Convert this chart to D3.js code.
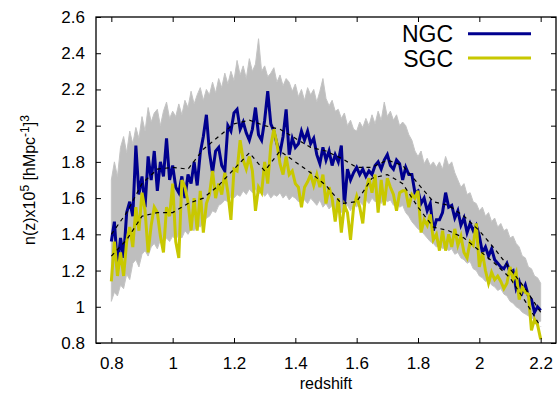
<!DOCTYPE html>
<html>
<head>
<meta charset="utf-8">
<script src="https://cdn.jsdelivr.net/npm/d3@7"></script>
<style>
  body { margin: 0; background: #fff; }
  text { font-family: "Liberation Sans", Arial, sans-serif; fill: #000; }
</style>
</head>
<body>
<div id="chart"></div>
<script>
// redshift bins (step 0.01) and smooth-curve bins (step 0.05)
var zStart = 0.80, zStep = 0.01;
var zSmoothStart = 0.80, zSmoothStep = 0.05;

var ngc = [1.36,1.47,1.22,1.38,1.27,1.52,1.58,1.50,1.89,1.62,
  1.72,1.55,1.83,1.70,1.86,1.64,1.80,1.72,1.93,1.70,
  1.78,1.66,1.63,1.72,1.60,1.73,1.68,1.80,1.67,1.85,
  1.94,2.06,1.85,1.74,1.86,1.88,1.78,1.75,2.00,1.97,
  2.07,2.09,1.98,2.02,1.96,1.92,1.98,2.10,1.95,1.92,
  2.03,2.19,2.01,1.97,1.90,1.85,1.94,2.09,1.84,1.93,
  1.88,1.90,1.97,1.92,1.97,1.90,1.93,1.84,1.79,1.88,
  1.81,1.86,1.78,1.84,1.80,1.89,1.56,1.76,1.70,1.74,
  1.77,1.73,1.76,1.72,1.75,1.73,1.78,1.80,1.76,1.81,
  1.84,1.78,1.76,1.81,1.79,1.70,1.77,1.73,1.73,1.63,
  1.64,1.57,1.60,1.53,1.57,1.42,1.48,1.48,1.52,1.63,
  1.55,1.56,1.49,1.53,1.45,1.49,1.41,1.46,1.42,1.45,
  1.39,1.30,1.33,1.28,1.32,1.26,1.24,1.22,1.21,1.24,
  1.19,1.20,1.10,1.14,1.08,1.12,1.06,1.04,0.97,1.00,
  0.98];

var sgc = [1.14,1.36,1.17,1.30,1.17,1.36,1.44,1.33,1.55,1.42,
  1.63,1.53,1.30,1.45,1.55,1.52,1.39,1.30,1.55,1.50,
  1.68,1.36,1.27,1.70,1.66,1.58,1.42,1.60,1.42,1.64,
  1.41,1.57,1.62,1.75,1.60,1.68,1.62,1.74,1.63,1.48,
  1.76,1.75,1.92,1.81,1.76,1.83,1.75,1.53,1.66,1.63,
  1.80,1.68,1.89,1.98,1.90,1.79,1.73,1.83,1.73,1.75,
  1.68,1.66,1.55,1.66,1.69,1.73,1.67,1.73,1.66,1.73,
  1.57,1.66,1.60,1.47,1.60,1.41,1.56,1.52,1.37,1.55,
  1.61,1.55,1.46,1.64,1.71,1.63,1.73,1.52,1.70,1.56,
  1.71,1.66,1.62,1.53,1.63,1.64,1.64,1.55,1.62,1.60,
  1.64,1.41,1.48,1.45,1.51,1.37,1.40,1.31,1.42,1.31,
  1.40,1.33,1.43,1.34,1.39,1.30,1.27,1.36,1.34,1.46,
  1.22,1.30,1.20,1.13,1.19,1.15,1.17,1.14,1.10,1.13,
  1.22,1.15,1.19,1.04,1.11,1.08,1.07,0.87,0.93,0.90,
  0.82];

// envelope of the mock catalogues
var mockHigh = [1.70,1.80,1.72,1.88,1.94,1.85,1.97,1.90,1.99,1.93,
  2.05,1.97,2.10,2.02,2.07,2.09,2.00,2.08,2.13,2.04,
  2.08,2.05,2.12,2.06,2.14,2.10,2.19,2.12,2.17,2.21,
  2.14,2.20,2.17,2.24,2.18,2.26,2.21,2.29,2.23,2.30,
  2.25,2.36,2.28,2.33,2.26,2.37,2.30,2.34,2.48,2.30,
  2.33,2.27,2.29,2.32,2.24,2.28,2.22,2.26,2.24,2.19,
  2.23,2.16,2.20,2.14,2.21,2.17,2.20,2.13,2.19,2.26,
  2.15,2.11,2.14,2.08,2.09,2.04,2.07,2.00,2.03,1.98,
  1.97,2.02,1.99,2.04,2.00,2.06,2.01,2.08,2.03,2.13,
  2.05,2.08,2.03,2.06,2.00,2.02,2.00,1.95,1.92,1.86,
  1.83,1.86,1.79,1.82,1.78,1.80,1.77,1.80,1.76,1.83,
  1.78,1.80,1.74,1.70,1.66,1.68,1.62,1.63,1.58,1.57,
  1.53,1.55,1.50,1.52,1.47,1.49,1.44,1.46,1.42,1.43,
  1.38,1.39,1.35,1.33,1.28,1.27,1.22,1.21,1.17,1.16,
  1.13];

var mockLow = [1.03,1.08,1.06,1.12,1.10,1.18,1.15,1.24,1.26,1.22,
  1.29,1.31,1.28,1.33,1.35,1.32,1.37,1.35,1.38,1.36,
  1.39,1.37,1.40,1.38,1.42,1.40,1.43,1.42,1.45,1.44,
  1.47,1.49,1.50,1.53,1.52,1.56,1.57,1.59,1.58,1.61,
  1.60,1.62,1.61,1.64,1.62,1.65,1.63,1.65,1.62,1.64,
  1.61,1.63,1.60,1.62,1.61,1.63,1.60,1.62,1.59,1.61,
  1.60,1.58,1.61,1.59,1.57,1.60,1.58,1.56,1.59,1.55,
  1.57,1.54,1.56,1.53,1.55,1.52,1.54,1.56,1.53,1.57,
  1.55,1.58,1.56,1.59,1.57,1.60,1.58,1.59,1.57,1.60,
  1.58,1.59,1.56,1.58,1.55,1.56,1.52,1.50,1.47,1.45,
  1.43,1.42,1.40,1.38,1.36,1.35,1.33,1.34,1.32,1.33,
  1.31,1.32,1.29,1.30,1.27,1.26,1.24,1.25,1.21,1.20,
  1.17,1.16,1.14,1.15,1.12,1.11,1.09,1.10,1.07,1.06,
  1.03,1.02,1.00,0.99,0.97,0.96,0.95,0.94,0.93,0.92,
  0.92];

// smoothed n(z) fits (dashed)
var ngcSmooth = [1.40,1.52,1.68,1.76,1.77,1.76,1.87,1.94,2.01,2.03,
  2.00,1.98,1.93,1.88,1.86,1.82,1.77,1.77,1.81,1.78,
  1.68,1.58,1.56,1.50,1.42,1.32,1.21,1.10,0.97];
var sgcSmooth = [1.28,1.37,1.50,1.52,1.52,1.57,1.60,1.67,1.76,1.85,
  1.75,1.86,1.80,1.74,1.67,1.57,1.58,1.71,1.73,1.68,
  1.55,1.44,1.42,1.38,1.31,1.24,1.16,1.03,0.89];

var xTicks = [0.8, 1.0, 1.2, 1.4, 1.6, 1.8, 2.0, 2.2];
var yTicks = [0.8, 1.0, 1.2, 1.4, 1.6, 1.8, 2.0, 2.2, 2.4, 2.6];
var legendNames = ["NGC", "SGC"];
var legendColors = ["#00008f", "#c8c800"];

var margin = {top: 17, right: 3, bottom: 52, left: 96},
    width = 559 - margin.left - margin.right,
    height = 395 - margin.top - margin.bottom;

var x = d3.scaleLinear().domain([0.75, 2.25]).range([0, width]);
var y = d3.scaleLinear().domain([0.8, 2.6]).range([height, 0]);

var svg = d3.select("#chart").append("svg")
    .attr("width", width + margin.left + margin.right)
    .attr("height", height + margin.top + margin.bottom)
  .append("g")
    .attr("transform", "translate(" + margin.left + "," + margin.top + ")");

function zAt(i) { return zStart + i * zStep; }
function zSmoothAt(i) { return zSmoothStart + i * zSmoothStep; }

// gray band of mocks
var band = d3.area()
    .x(function(d, i) { return x(zAt(i)); })
    .y0(function(d, i) { return y(mockLow[i]); })
    .y1(function(d) { return y(d); });

svg.append("path")
    .datum(mockHigh)
    .attr("d", band)
    .attr("fill", "#bebebe")
    .attr("stroke", "#c4c4c4")
    .attr("stroke-width", 1);

var line = d3.line()
    .x(function(d, i) { return x(zAt(i)); })
    .y(function(d) { return y(d); });

svg.append("path")
    .datum(ngc)
    .attr("d", line)
    .attr("fill", "none")
    .attr("stroke", legendColors[0])
    .attr("stroke-width", 3)
    .attr("stroke-linejoin", "miter");

svg.append("path")
    .datum(sgc)
    .attr("d", line)
    .attr("fill", "none")
    .attr("stroke", legendColors[1])
    .attr("stroke-width", 3)
    .attr("stroke-linejoin", "miter");

var smoothLine = d3.line()
    .x(function(d, i) { return x(zSmoothAt(i)); })
    .y(function(d) { return y(d); });

[ngcSmooth, sgcSmooth].forEach(function(s) {
  svg.append("path")
      .datum(s)
      .attr("d", smoothLine)
      .attr("fill", "none")
      .attr("stroke", "#000")
      .attr("stroke-width", 1.2)
      .attr("stroke-dasharray", "4,4");
});

// Axes (ticks inside, mirrored)
svg.append("g")
    .attr("transform", "translate(0," + height + ")")
    .call(d3.axisBottom(x).tickValues(xTicks).tickSizeInner(-5).tickSizeOuter(0)
      .tickPadding(14).tickFormat(d3.format("~g")));
svg.append("g")
    .call(d3.axisLeft(y).tickValues(yTicks).tickSizeInner(-5).tickSizeOuter(0)
      .tickPadding(11).tickFormat(d3.format("~g")));
svg.append("g")
    .call(d3.axisTop(x).tickValues(xTicks).tickSizeInner(-5).tickSizeOuter(0).tickFormat(""));
svg.append("g")
    .attr("transform", "translate(" + width + ",0)")
    .call(d3.axisRight(y).tickValues(yTicks).tickSizeInner(-5).tickSizeOuter(0).tickFormat(""));

svg.selectAll(".domain").remove();
svg.selectAll(".tick line").attr("stroke", "#000").attr("stroke-width", 1);
svg.selectAll(".tick text")
    .style("font-family", "Liberation Sans, Arial, sans-serif")
    .style("font-size", "17px")
    .attr("fill", "#000");

svg.append("rect")
    .attr("width", width)
    .attr("height", height)
    .attr("fill", "none")
    .attr("stroke", "#000")
    .attr("stroke-width", 1.3);

// Legend
legendNames.forEach(function(name, i) {
  var ly = 33.7 + i * 24.4;
  svg.append("text")
      .attr("x", 453 - margin.left)
      .attr("y", ly - margin.top + 8.5)
      .attr("text-anchor", "end")
      .style("font-size", "23px")
      .text(name);
  svg.append("line")
      .attr("x1", 468 - margin.left)
      .attr("x2", 531 - margin.left)
      .attr("y1", ly - margin.top)
      .attr("y2", ly - margin.top)
      .attr("stroke", legendColors[i])
      .attr("stroke-width", 3);
});

// Axis titles
svg.append("text")
    .attr("transform", "translate(" + (width / 2) + "," + (height + 46) + ")")
    .style("text-anchor", "middle")
    .style("font-size", "16px")
    .text("redshift");

var yl = svg.append("text")
    .attr("transform", "translate(" + (35 - margin.left) + "," + (height / 2) + ") rotate(-90)")
    .style("text-anchor", "middle")
    .style("font-size", "16px");
yl.append("tspan").text("n(z)x10");
yl.append("tspan").attr("dy", -6).style("font-size", "12px").text("5");
yl.append("tspan").attr("dy", 6).text(" [hMpc");
yl.append("tspan").attr("dy", -6).style("font-size", "12px").text("-1");
yl.append("tspan").attr("dy", 6).text("]");
yl.append("tspan").attr("dy", -6).style("font-size", "12px").text("3");
</script>
</body>
</html>
